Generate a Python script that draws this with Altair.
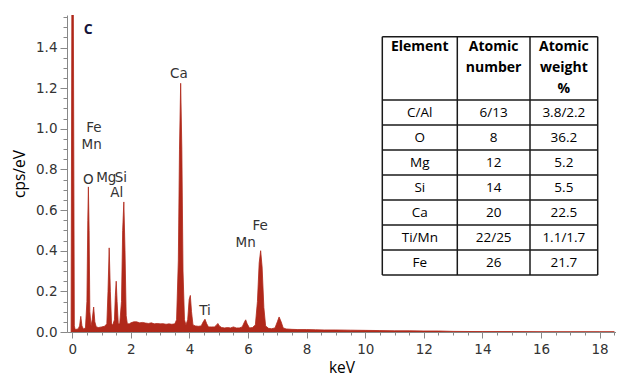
import altair as alt
import pandas as pd

# ---------------- data ----------------
kev = [-0.04, -0.01, 0.03, 0.07, 0.10, 0.20, 0.25, 0.29, 0.33, 0.38, 0.45, 0.50, 0.53, 0.55,
       0.575, 0.60, 0.64, 0.68, 0.73, 0.77, 0.82, 0.90, 1.00, 1.10, 1.18, 1.22, 1.26, 1.30,
       1.34, 1.38, 1.44, 1.47, 1.50, 1.53, 1.57, 1.62, 1.68, 1.72, 1.76, 1.80, 1.84, 1.88,
       1.95, 2.00, 2.10, 2.20, 2.30, 2.40, 2.50, 2.60, 2.70, 2.80, 2.90, 3.00, 3.10, 3.20,
       3.30, 3.40, 3.50, 3.56, 3.62, 3.66, 3.70, 3.74, 3.78, 3.83, 3.88, 3.94, 3.99, 4.03,
       4.07, 4.12, 4.20, 4.30, 4.40, 4.47, 4.53, 4.59, 4.65, 4.75, 4.85, 4.93, 4.97, 5.02,
       5.10, 5.20, 5.30, 5.40, 5.50, 5.60, 5.70, 5.80, 5.88, 5.92, 5.97, 6.05, 6.15, 6.25,
       6.32, 6.38, 6.43, 6.48, 6.54, 6.60, 6.70, 6.80, 6.92, 7.00, 7.06, 7.13, 7.20, 7.30,
       7.50, 7.70, 8.00, 8.30, 8.60, 9.00, 9.50, 10.0, 10.5, 11.0, 11.5, 12.0, 12.5, 13.0,
       14.0, 15.0, 16.0, 17.0, 18.0, 18.5]
cps = [0.0, 1.90, 1.90, 0.03, 0.012, 0.015, 0.03, 0.077, 0.03, 0.015, 0.02, 0.15, 0.55, 0.714,
       0.50, 0.10, 0.03, 0.06, 0.123, 0.05, 0.025, 0.022, 0.025, 0.028, 0.04, 0.20, 0.414, 0.20,
       0.04, 0.035, 0.06, 0.18, 0.25, 0.15, 0.04, 0.04, 0.15, 0.50, 0.64, 0.40, 0.08, 0.04,
       0.04, 0.045, 0.05, 0.05, 0.045, 0.047, 0.044, 0.042, 0.045, 0.040, 0.042, 0.040, 0.041, 0.038,
       0.040, 0.038, 0.040, 0.06, 0.35, 0.90, 1.224, 0.90, 0.30, 0.06, 0.035, 0.06, 0.16, 0.18,
       0.10, 0.035, 0.030, 0.028, 0.030, 0.05, 0.063, 0.04, 0.025, 0.025, 0.025, 0.035, 0.042, 0.030,
       0.022, 0.020, 0.022, 0.020, 0.025, 0.020, 0.020, 0.025, 0.05, 0.06, 0.04, 0.020, 0.022, 0.035,
       0.15, 0.34, 0.40, 0.32, 0.12, 0.03, 0.018, 0.016, 0.02, 0.05, 0.074, 0.05, 0.02, 0.015,
       0.013, 0.012, 0.012, 0.011, 0.010, 0.010, 0.009, 0.008, 0.007, 0.006, 0.006, 0.005, 0.005, 0.003,
       0.002, 0.002, 0.001, 0.001, 0.001, 0.001]

peak_labels = ["Fe", "Mn", "O", "Mg", "Si", "Al", "Ca", "Ti", "Fe", "Mn"]
label_kev = [0.735, 0.66, 0.546, 1.16, 1.66, 1.515, 3.64, 4.53, 6.41, 5.92]
label_cps = [1.002, 0.921, 0.747, 0.76, 0.76, 0.682, 1.27, 0.103, 0.522, 0.44]

panel_letter = ["C"]
panel_kev = [0.54]
panel_cps = [1.486]

x_ticks = [i * 0.5 for i in range(0, 38)]
y_ticks = [round(i * 0.05, 2) for i in range(0, 32)]

table_header = [["Element"], ["Atomic", "number"], ["Atomic", "weight", "%"]]
elements = ["C/Al", "O", "Mg", "Si", "Ca", "Ti/Mn", "Fe"]
atomic_numbers = ["6/13", "8", "12", "14", "20", "22/25", "26"]
atomic_weights = ["3.8/2.2", "36.2", "5.2", "5.5", "22.5", "1.1/1.7", "21.7"]

# ---------------- layout ----------------
W, H = 549, 317
X_DOMAIN = [-0.18, 18.56]
Y_DOMAIN = [0, 1.56]
RED = "#b0281a"
col_widths = [75, 72.7, 67.7]
header_h = 63.3
row_h = 25
table_x_range = [315.3, 530.7]
table_y_range = [21.7, 260.0]

xscale = alt.Scale(domain=X_DOMAIN, nice=False, zero=False)
yscale = alt.Scale(domain=Y_DOMAIN, nice=False, zero=False)

x_major = "abs(datum.value/2 - round(datum.value/2)) < 0.001"
y_major = "abs(datum.value*5 - round(datum.value*5)) < 0.001"

xaxis = alt.Axis(
    values=x_ticks, title="keV", labelExpr=f"{x_major} ? format(datum.value, 'd') : ''",
    tickSize={"condition": {"test": x_major, "value": 6}, "value": 3},
    labelFont="DejaVu Sans", labelFontSize=13.5, labelColor="#333", labelPadding=4,
    labelOverlap=False, labelFlush=False, domainColor="#888", tickColor="#888",
    titleFont="Open Sans", titleFontSize=15.5, titleFontWeight="normal", titleColor="#000",
    titlePadding=5, grid=False,
)
yaxis = alt.Axis(
    values=y_ticks, title="cps/eV", labelExpr=f"{y_major} ? format(datum.value, '.1f') : ''",
    tickSize={"condition": {"test": y_major, "value": 7}, "value": 4},
    labelFont="DejaVu Sans", labelFontSize=13.5, labelColor="#333", labelPadding=3,
    labelOverlap=False, labelFlush=False, domainColor="#888", tickColor="#888",
    titleFont="Open Sans", titleFontSize=15.5, titleFontWeight="normal", titleColor="#000",
    titlePadding=8, grid=False,
)

X = alt.X("keV:Q", scale=xscale, axis=xaxis)
Y = alt.Y("cps:Q", scale=yscale, axis=yaxis)

spec_df = pd.DataFrame({"keV": kev, "cps": cps})
area = alt.Chart(spec_df).mark_area(
    clip=True, color=RED, stroke=RED, strokeWidth=0.8, interpolate="linear"
).encode(x=X, y=Y)

lab_df = pd.DataFrame({"keV": label_kev, "cps": label_cps, "t": peak_labels})
labels = alt.Chart(lab_df).mark_text(
    font="DejaVu Sans", fontSize=13.5, color="#333", align="center", baseline="middle"
).encode(x=X, y=Y, text="t:N")

letter_df = pd.DataFrame({"keV": panel_kev, "cps": panel_cps, "t": panel_letter})
letter = alt.Chart(letter_df).mark_text(
    font="Open Sans", fontSize=14, fontWeight="bold", color="#14143a", align="center", baseline="middle"
).encode(x=X, y=Y, text="t:N")

main = alt.layer(area, labels, letter)

# ---------------- table ----------------
col_edges = [0]
for w in col_widths:
    col_edges.append(col_edges[-1] + w)
n_rows = len(elements)
row_edges = [0, header_h] + [header_h + row_h * (i + 1) for i in range(n_rows)]
TW, TH = col_edges[-1], row_edges[-1]

segs = []
for e in row_edges:
    segs.append({"x0": 0, "x1": TW, "y0": e, "y1": e})
for e in col_edges:
    segs.append({"x0": e, "x1": e, "y0": 0, "y1": TH})
seg_df = pd.DataFrame(segs)

tx = alt.Scale(domain=[0, TW], range=table_x_range, nice=False, zero=False)
ty = alt.Scale(domain=[0, TH], range=table_y_range, nice=False, zero=False)

grid = alt.Chart(seg_df).mark_rule(color="#1a1a1a", strokeWidth=1.5).encode(
    x=alt.X("x0:Q", scale=tx, axis=None), x2="x1:Q",
    y=alt.Y("y0:Q", scale=ty, axis=None), y2="y1:Q",
)

cells = []
for c, lines in enumerate(table_header):
    cx = (col_edges[c] + col_edges[c + 1]) / 2
    for i, ln in enumerate(lines):
        cells.append({"cx": cx, "cy": 10.6 + 21 * i, "t": ln, "w": "bold"})
for r in range(n_rows):
    cy = row_edges[r + 1] + row_h / 2
    for c, col in enumerate([elements, atomic_numbers, atomic_weights]):
        cx = (col_edges[c] + col_edges[c + 1]) / 2
        cells.append({"cx": cx, "cy": cy, "t": col[r], "w": "normal"})
cell_df = pd.DataFrame(cells)

head_txt = alt.Chart(cell_df[cell_df.w == "bold"]).mark_text(
    font="Open Sans", fontSize=14, fontWeight="bold", color="#000", align="center", baseline="middle"
).encode(x=alt.X("cx:Q", scale=tx, axis=None), y=alt.Y("cy:Q", scale=ty, axis=None), text="t:N")
body_txt = alt.Chart(cell_df[cell_df.w == "normal"]).mark_text(
    font="Open Sans", fontSize=13.5, fontWeight=500, color="#000", align="center", baseline="middle"
).encode(x=alt.X("cx:Q", scale=tx, axis=None), y=alt.Y("cy:Q", scale=ty, axis=None), text="t:N")

table = alt.layer(grid, head_txt, body_txt)

chart = alt.layer(main, table).resolve_scale(x="independent", y="independent").properties(
    width=W, height=H,
    autosize=alt.AutoSizeParams(type="none"),
    padding={"left": 59, "top": 7, "right": 0, "bottom": 46},
    background="white",
).configure_view(stroke=None)

chart.save("out.html", embed_options={"renderer": "svg", "actions": False})
